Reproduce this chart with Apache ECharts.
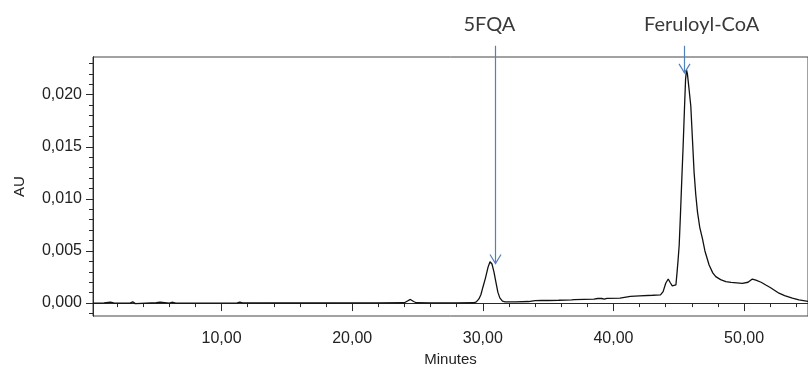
<!DOCTYPE html>
<html>
<head>
<meta charset="utf-8">
<script src="https://cdn.jsdelivr.net/npm/echarts@6/dist/echarts.min.js"></script>
<style>
html,body{margin:0;padding:0;background:#fff;}
#chart{width:808px;height:372px;}
</style>
</head>
<body>
<div id="chart"></div>
<script>
// Retention time (minutes)
const times = [0.16, 1.0, 1.5, 1.8, 3.0, 3.2, 3.4, 5.0, 5.3, 6.0, 6.2, 6.5, 8.0, 11.2, 11.4, 11.6, 14.0, 18.0, 22.0,
  24.0, 24.2, 24.45, 24.7, 24.9, 26.0, 28.0, 29.3, 29.5, 29.7, 29.85, 30.0, 30.2, 30.4, 30.55, 30.7, 30.85, 31.0,
  31.15, 31.3, 31.5, 31.7, 32.5, 33.5, 34.0, 34.5, 35.0, 35.8, 36.8, 37.0, 38.5, 38.8, 38.9, 39.1, 39.3, 39.5,
  40.5, 41.3, 42.0, 43.0, 43.6, 43.8, 44.0, 44.19, 44.35, 44.5, 44.65, 44.78, 44.87, 44.95, 45.03, 45.13, 45.23,
  45.33, 45.43, 45.52, 45.59, 45.66, 45.78, 45.92, 46.05, 46.17, 46.3, 46.43, 46.6, 46.81, 47.0, 47.32, 47.6,
  47.83, 48.2, 48.6, 49.0, 49.87, 50.3, 50.63, 50.9, 51.3, 51.66, 52.0, 52.67, 53.1, 53.69, 54.2, 54.89];
// Absorbance (AU)
const absorbance = [0.00000, 0.00002, 0.00010, 0.00000, 0.00000, 0.00012, -0.00005, 0.00003, 0.00008, 0.00000,
  0.00008, 0.00000, 0.00000, 0.00002, 0.00010, 0.00002, 0.00001, 0.00001, 0.00002,
  0.00003, 0.00018, 0.00035, 0.00015, 0.00003, 0.00002, 0.00002, 0.00003, 0.00012, 0.00040, 0.00080, 0.00150,
  0.00240, 0.00345, 0.00397, 0.00375, 0.00300, 0.00200,
  0.00105, 0.00050, 0.00018, 0.00012, 0.00012, 0.00015, 0.00024, 0.00026, 0.00025, 0.00027, 0.00031, 0.00034,
  0.00038, 0.00044, 0.00036, 0.00044, 0.00038, 0.00046,
  0.00048, 0.00065, 0.00070, 0.00075, 0.00079, 0.00110, 0.00190, 0.00231, 0.00195, 0.00165, 0.00159, 0.00174,
  0.00300, 0.00420, 0.00555, 0.00860, 0.01190,
  0.01500, 0.01850, 0.02150, 0.02238, 0.02200, 0.02060, 0.01889, 0.01560, 0.01257, 0.01040, 0.00876, 0.00730,
  0.00619, 0.00500, 0.00365, 0.00290,
  0.00254, 0.00225, 0.00207, 0.00198, 0.00190, 0.00200, 0.00231, 0.00220, 0.00200, 0.00174, 0.00150, 0.00095,
  0.00072, 0.00048, 0.00030, 0.00016];

// Axis ticks
const xMajorTicks = [10, 20, 30, 40, 50];
const xMinorTicks = [2, 4, 6, 8, 12, 14, 16, 18, 22, 24, 26, 28, 32, 34, 36, 38, 42, 44, 46, 48, 52, 54];
const yMajorTicks = [0, 0.005, 0.010, 0.015, 0.020];
const yMinorTicks = [-0.001, 0.001, 0.002, 0.003, 0.004, 0.006, 0.007, 0.008, 0.009, 0.011, 0.012, 0.013, 0.014,
  0.016, 0.017, 0.018, 0.019, 0.021, 0.022, 0.023];

// Annotations
const annoLabels = ['5FQA', 'Feruloyl-CoA'];
const annoLabelX = [30.5, 46.75];
const annoArrowX = [30.94, 45.41];
const annoTipY = [0.0038, 0.0221];
const annoTopY = 0.0247;
const annoLabelY = 0.0267;

const xMin = 0.16, xMax = 54.89, yMin = -0.00124, yMax = 0.02362;

const chart = echarts.init(document.getElementById('chart'), null, {renderer: 'canvas'});
const axisColor = '#2a2a2a';
const labelFont = {fontFamily: 'Liberation Sans, Arial, sans-serif', fontSize: 16, color: '#222'};

const option = {
  animation: false,
  backgroundColor: '#fff',
  grid: {left: 93, right: -1, top: 57, bottom: 54, show: true, borderColor: '#444', borderWidth: 1, backgroundColor: '#fff'},
  xAxis: [
    {
      type: 'value', min: xMin, max: xMax, position: 'bottom',
      axisLine: {show: true, lineStyle: {color: axisColor, width: 1}},
      axisTick: {show: true, customValues: xMinorTicks, length: 4, lineStyle: {color: axisColor}},
      axisLabel: {show: false},
      splitLine: {show: false}
    },
    {
      type: 'value', min: xMin, max: xMax, position: 'bottom',
      name: 'Minutes', nameLocation: 'middle', nameGap: 36,
      nameTextStyle: {fontFamily: 'Liberation Sans, Arial, sans-serif', fontSize: 15, color: '#222'},
      axisLine: {show: true, lineStyle: {color: axisColor, width: 1}},
      axisTick: {show: true, customValues: xMajorTicks, length: 8, lineStyle: {color: axisColor}},
      axisLabel: Object.assign({customValues: xMajorTicks, margin: 15,
        formatter: v => v.toFixed(2).replace('.', ',')}, labelFont),
      splitLine: {show: false}
    }
  ],
  yAxis: [
    {
      type: 'value', min: yMin, max: yMax, position: 'left',
      axisLine: {show: true, lineStyle: {color: axisColor, width: 1}},
      axisTick: {show: true, customValues: yMinorTicks, length: 4, lineStyle: {color: axisColor}},
      axisLabel: {show: false},
      splitLine: {show: false}
    },
    {
      type: 'value', min: yMin, max: yMax, position: 'left',
      name: 'AU', nameLocation: 'middle', nameGap: 66,
      nameTextStyle: {fontFamily: 'Liberation Sans, Arial, sans-serif', fontSize: 15, color: '#222'},
      axisLine: {show: true, lineStyle: {color: axisColor, width: 1}},
      axisTick: {show: true, customValues: yMajorTicks, length: 7, lineStyle: {color: axisColor}},
      axisLabel: Object.assign({customValues: yMajorTicks, margin: 11,
        formatter: v => v.toFixed(3).replace('.', ',')}, labelFont),
      splitLine: {show: false}
    }
  ],
  series: [{
    type: 'line',
    xAxisIndex: 0, yAxisIndex: 0,
    data: times.map((t, i) => [t, absorbance[i]]),
    showSymbol: false,
    symbol: 'none',
    lineStyle: {color: '#111', width: 1.3},
    clip: true
  }]
};
chart.setOption(option);

// Annotation arrows and labels, positioned through the chart's own scales
const graphics = [];
const arrowColor = '#4f81bd';
annoLabels.forEach((lab, i) => {
  const top = chart.convertToPixel({xAxisIndex: 0, yAxisIndex: 0}, [annoArrowX[i], annoTopY]);
  const tip = chart.convertToPixel({xAxisIndex: 0, yAxisIndex: 0}, [annoArrowX[i], annoTipY[i]]);
  const lp = chart.convertToPixel({xAxisIndex: 0, yAxisIndex: 0}, [annoLabelX[i], annoLabelY]);
  const ax = Math.round(top[0]) + 0.5;
  graphics.push({
    type: 'line', silent: true, z: 100,
    shape: {x1: ax, y1: top[1], x2: ax, y2: tip[1]},
    style: {stroke: arrowColor, lineWidth: 1.2}
  });
  graphics.push({
    type: 'polyline', silent: true, z: 100,
    shape: {points: [[ax - 5.5, tip[1] - 9], [ax, tip[1]], [ax + 5.5, tip[1] - 9]]},
    style: {stroke: arrowColor, lineWidth: 1.2, fill: null}
  });
  graphics.push({
    type: 'text', silent: true, z: 100,
    x: lp[0], y: lp[1],
    style: {text: lab, fill: '#3a3a3a', font: '20px Lato, "Open Sans", sans-serif', align: 'center', verticalAlign: 'middle'}
  });
});
chart.setOption({graphic: graphics});
</script>
</body>
</html>
